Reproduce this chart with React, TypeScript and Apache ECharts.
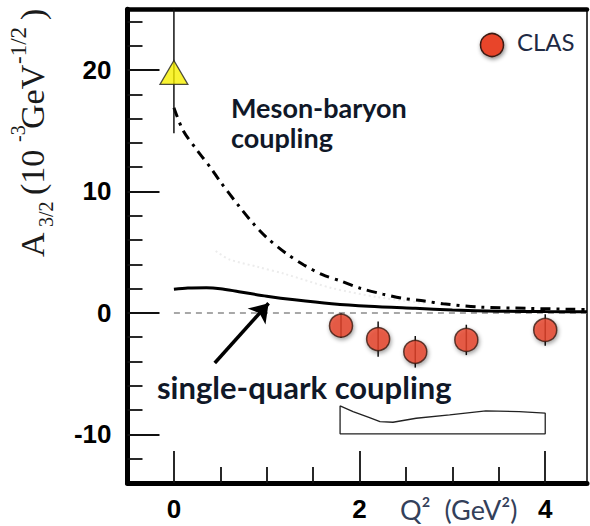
import React, { useEffect, useRef } from "react";
import * as echarts from "echarts";

// ---- axis ranges / ticks ----
const X_MIN = -0.5;
const X_MAX = 4.45;
const Y_MIN = -14;
const Y_MAX = 25;
const xMajorTicks = [0, 2, 4];
const xMinorTicks = [0.5, 1, 1.5, 2.5, 3, 3.5];
const yMajorTicks = [-10, 0, 10, 20];
const yMinorTicks = [-12, -8, -6, -4, -2, 2, 4, 6, 8, 12, 14, 16, 18, 22, 24];

// ---- CLAS data ----
const clasQ2 = [1.8, 2.2, 2.6, 3.15, 4.0];
const clasA32 = [-1.05, -2.15, -3.2, -2.22, -1.4];
const clasErr = [1.0, 1.45, 1.3, 1.25, 1.3];

// ---- photon point (Q2 = 0) ----
const photonQ2 = [0];
const photonA32 = [19.8];
const photonLo = [14.8];
const photonHi = [25.5];

// ---- model curves ----
const mbQ2 = [0, 0.1, 0.25, 0.4, 0.5, 0.7, 0.85, 1.0, 1.2, 1.4, 1.6, 1.8, 2.0, 2.25, 2.45, 2.7, 2.9, 3.3, 3.8, 4.3, 4.45];
const mbA32 = [16.9, 15.0, 13.4, 11.9, 10.8, 8.8, 7.4, 6.2, 4.95, 3.95, 3.15, 2.62, 2.05, 1.55, 1.22, 0.98, 0.75, 0.48, 0.38, 0.3, 0.28];

const sqQ2 = [0, 0.15, 0.35, 0.5, 0.7, 1.0, 1.3, 1.7, 2.1, 2.6, 3.0, 3.5, 4.0, 4.45];
const sqA32 = [1.95, 2.05, 2.08, 2.0, 1.75, 1.38, 1.08, 0.76, 0.55, 0.38, 0.25, 0.14, 0.11, 0.1];

const faintQ2 = [0.45, 0.6, 0.9, 1.2, 1.7, 2.2, 2.7];
const faintA32 = [5.1, 4.4, 3.8, 3.2, 2.05, 1.3, 0.8];

// ---- systematic band ----
const bandQ2 = [1.79, 1.93, 2.1, 2.22, 2.36, 2.61, 2.97, 3.36, 3.72, 4.0];
const bandTop = [-7.65, -8.12, -8.6, -8.95, -9.0, -8.67, -8.4, -8.07, -8.12, -8.25];
const bandBottom = -9.95;

// ---- annotation arrow ----
const arrowFrom = [0.44, -4.12];
const arrowTo = [1.02, 0.8];

const zip = (xs: number[], ys: number[]) => xs.map((x, i) => [x, ys[i]]);

const bandPolygon = [
  ...zip(bandQ2, bandTop),
  [bandQ2[bandQ2.length - 1], bandBottom],
  [bandQ2[0], bandBottom],
  [bandQ2[0], bandTop[0]],
];

const errData = [
  ...clasQ2.map((x, i) => [x, clasA32[i] - clasErr[i], clasA32[i] + clasErr[i]]),
  ...photonQ2.map((x, i) => [x, photonLo[i], photonHi[i]]),
];

const labelFont = "'Liberation Sans', Arial, sans-serif";
const calibriLike = "Lato, 'Open Sans', sans-serif";
const serif = "'Liberation Serif', 'Times New Roman', serif";

function buildOption() {
  const tickStyle = { color: "#111", width: 1.8 };
  const titleColor = "#1a1a1a";
  const yTitle = {
    type: "group",
    x: 43,
    y: 257,
    rotation: Math.PI / 2,
    silent: true,
    children: [
      { type: "text", x: 0, y: -11, style: { text: "A", fontSize: 34, fontFamily: serif, fill: titleColor, verticalAlign: "middle" } },
      { type: "text", x: 30, y: 3, style: { text: "3/2", fontSize: 20, fontFamily: serif, fill: titleColor, verticalAlign: "middle" } },
      { type: "text", x: 62, y: -11, style: { text: "(10", fontSize: 34, fontFamily: serif, fill: titleColor, verticalAlign: "middle" } },
      { type: "text", x: 115, y: -25, style: { text: "-3", fontSize: 20, fontFamily: serif, fill: titleColor, verticalAlign: "middle" } },
      { type: "text", x: 128, y: -11, style: { text: "GeV", fontSize: 34, fontFamily: serif, fill: titleColor, verticalAlign: "middle" } },
      { type: "text", x: 193, y: -25, style: { text: "-1/2", fontSize: 23, fontFamily: serif, fill: titleColor, verticalAlign: "middle" } },
      { type: "text", x: 237, y: -11, style: { text: ")", fontSize: 34, fontFamily: serif, fill: titleColor, verticalAlign: "middle" } },
    ],
  };

  return {
    animation: false,
    backgroundColor: "#ffffff",
    grid: {
      left: 127.5,
      right: 3,
      top: 9.25,
      bottom: 43,
      containLabel: false,
      outerBoundsMode: "none",
    },
    xAxis: [
      {
        type: "value",
        min: X_MIN,
        max: X_MAX,
        position: "bottom",
        axisLine: { show: true, onZero: false, lineStyle: { color: "#000", width: 5 } },
        axisTick: { show: true, inside: true, length: 32, lineStyle: tickStyle, customValues: xMajorTicks },
        axisLabel: {
          show: true,
          customValues: xMajorTicks,
          fontSize: 26,
          fontWeight: "bold",
          fontFamily: labelFont,
          color: "#000",
          margin: 13,
        },
        splitLine: { show: false },
      },
      {
        type: "value",
        min: X_MIN,
        max: X_MAX,
        position: "bottom",
        axisLine: { show: false, onZero: false },
        axisTick: { show: true, inside: true, length: 16, lineStyle: tickStyle, customValues: xMinorTicks },
        axisLabel: { show: false },
        splitLine: { show: false },
      },
      {
        type: "value",
        min: X_MIN,
        max: X_MAX,
        position: "top",
        axisLine: { show: true, onZero: false, lineStyle: { color: "#000", width: 4.5 } },
        axisTick: { show: false },
        axisLabel: { show: false },
        splitLine: { show: false },
      },
    ],
    yAxis: [
      {
        type: "value",
        min: Y_MIN,
        max: Y_MAX,
        position: "left",
        axisLine: { show: true, onZero: false, lineStyle: { color: "#000", width: 5 } },
        axisTick: { show: true, inside: true, length: 32, lineStyle: tickStyle, customValues: yMajorTicks },
        axisLabel: {
          show: true,
          customValues: yMajorTicks,
          fontSize: 26,
          fontWeight: "bold",
          fontFamily: labelFont,
          color: "#000",
          margin: 16,
        },
        splitLine: { show: false },
      },
      {
        type: "value",
        min: Y_MIN,
        max: Y_MAX,
        position: "left",
        axisLine: { show: false, onZero: false },
        axisTick: { show: true, inside: true, length: 15, lineStyle: tickStyle, customValues: yMinorTicks },
        axisLabel: { show: false },
        splitLine: { show: false },
      },
      {
        type: "value",
        min: Y_MIN,
        max: Y_MAX,
        position: "right",
        axisLine: { show: true, onZero: false, lineStyle: { color: "#000", width: 1.5 } },
        axisTick: { show: false },
        axisLabel: { show: false },
        splitLine: { show: false },
      },
    ],
    series: [
      {
        name: "zero",
        type: "line",
        data: [[0, 0], [X_MAX, 0]],
        showSymbol: false,
        silent: true,
        z: 1,
        lineStyle: { color: "#8c8c8c", width: 1.5, type: [6, 5] },
      },
      {
        name: "faint",
        type: "line",
        data: zip(faintQ2, faintA32),
        showSymbol: false,
        smooth: 0.3,
        silent: true,
        z: 1,
        lineStyle: { color: "#ececec", width: 2, type: [2, 3] },
      },
      {
        name: "Meson-baryon coupling",
        type: "line",
        data: zip(mbQ2, mbA32),
        showSymbol: false,
        smooth: 0.3,
        silent: true,
        z: 2,
        lineStyle: { color: "#000", width: 3, type: [10, 6, 3, 6] },
      },
      {
        name: "single-quark coupling",
        type: "line",
        data: zip(sqQ2, sqA32),
        showSymbol: false,
        smooth: 0.3,
        silent: true,
        z: 2,
        lineStyle: { color: "#000", width: 3 },
        markLine: {
          silent: true,
          symbol: ["none", "arrow"],
          symbolSize: 18,
          label: { show: false },
          lineStyle: { type: "solid", color: "#000", width: 3.5 },
          data: [[{ coord: arrowFrom }, { coord: arrowTo }]],
        },
      },
      {
        name: "band",
        type: "line",
        data: bandPolygon,
        showSymbol: false,
        silent: true,
        z: 2,
        lineStyle: { color: "#222", width: 1.3 },
      },
      {
        name: "errors",
        type: "custom",
        data: errData,
        encode: { x: 0, y: [1, 2] },
        clip: true,
        silent: true,
        z: 3,
        renderItem: (params: any, api: any) => {
          const x = api.value(0);
          const p1 = api.coord([x, api.value(1)]);
          const p2 = api.coord([x, api.value(2)]);
          return {
            type: "line",
            shape: { x1: p1[0], y1: p1[1], x2: p2[0], y2: p2[1] },
            style: { stroke: "#111", lineWidth: 1.5 },
          };
        },
      },
      {
        name: "CLAS",
        type: "scatter",
        data: zip(clasQ2, clasA32),
        symbol: "circle",
        symbolSize: 23,
        silent: true,
        z: 4,
        itemStyle: {
          color: "#e8442c",
          borderColor: "#3b1a12",
          borderWidth: 1.5,
          shadowBlur: 4,
          shadowColor: "rgba(0,0,0,0.45)",
          shadowOffsetX: 1,
          shadowOffsetY: 2,
        },
      },
      {
        name: "photon",
        type: "scatter",
        data: zip(photonQ2, photonA32),
        symbol: "triangle",
        symbolSize: [28, 24],
        silent: true,
        z: 4,
        itemStyle: { color: "#f7f000", borderColor: "#222", borderWidth: 1.2 },
      },
    ],
    graphic: [
      yTitle,
      {
        type: "text",
        x: 231,
        y: 107,
        silent: true,
        style: { text: "Meson-baryon", fontSize: 27, fontWeight: "bold", fontFamily: calibriLike, fill: "#101828", verticalAlign: "middle" },
      },
      {
        type: "text",
        x: 231,
        y: 137,
        silent: true,
        style: { text: "coupling", fontSize: 27, fontWeight: "bold", fontFamily: calibriLike, fill: "#101828", verticalAlign: "middle" },
      },
      {
        type: "text",
        x: 157,
        y: 387,
        silent: true,
        style: { text: "single-quark coupling", fontSize: 31, fontWeight: "bold", fontFamily: calibriLike, fill: "#101828", verticalAlign: "middle" },
      },
      {
        type: "circle",
        silent: true,
        shape: { cx: 492, cy: 45, r: 11.5 },
        style: {
          fill: "#e8442c",
          stroke: "#3b1a12",
          lineWidth: 1.5,
          shadowBlur: 4,
          shadowColor: "rgba(0,0,0,0.45)",
          shadowOffsetX: 1,
          shadowOffsetY: 2,
        },
      },
      {
        type: "text",
        x: 517,
        y: 41,
        silent: true,
        style: { text: "CLAS", fontSize: 24, fontFamily: calibriLike, fill: "#1f2a44", verticalAlign: "middle" },
      },
      {
        type: "text",
        x: 400,
        y: 509,
        silent: true,
        style: { text: "Q\u00B2  (GeV\u00B2)", fontSize: 27, fontFamily: calibriLike, fill: "#33405a", verticalAlign: "middle" },
      },
    ],
  };
}

export default function App() {
  const ref = useRef<HTMLDivElement>(null);
  useEffect(() => {
    if (!ref.current) return;
    const chart = echarts.init(ref.current, null, { renderer: "svg" });
    chart.setOption(buildOption() as any);
    return () => chart.dispose();
  }, []);
  return (
    <div
      ref={ref}
      style={{ position: "absolute", left: 0, top: 0, width: 590, height: 526, background: "#fff" }}
    />
  );
}
